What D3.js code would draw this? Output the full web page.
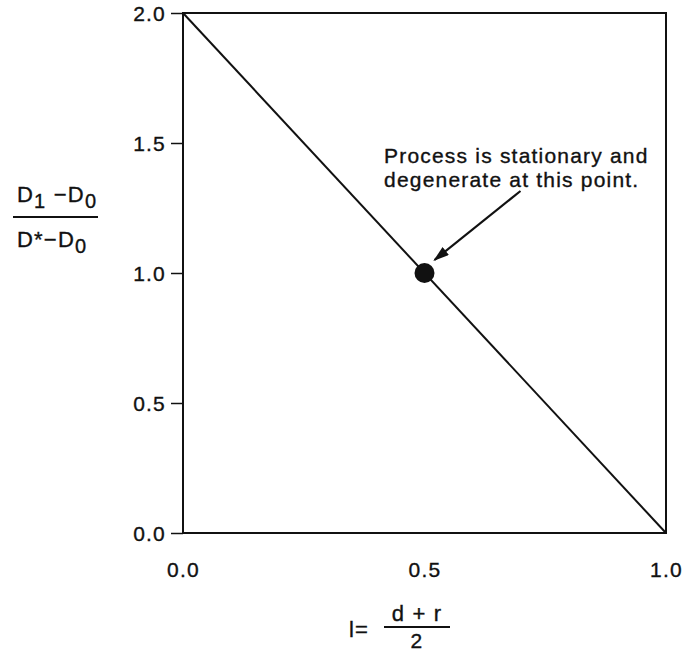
<!DOCTYPE html>
<html>
<head>
<meta charset="utf-8">
<script src="https://cdn.jsdelivr.net/npm/d3@7"></script>
<style>
  html, body { margin: 0; padding: 0; background: #fff; }
  svg text { font-family: 'Liberation Sans', Arial, sans-serif; fill: #111; letter-spacing: 1.2px;
             stroke: #111; stroke-width: 0.35px; }
</style>
</head>
<body>
<svg id="chart" width="690" height="655"></svg>
<script>
// Line from (0, 2) down to (1, 0), with the stationary point marked.
const lineX = [0.0, 1.0];
const lineY = [2.0, 0.0];
const pointX = [0.5];
const pointY = [1.0];
const xTicks = [0.0, 0.5, 1.0];
const yTicks = [0.0, 0.5, 1.0, 1.5, 2.0];
const noteLines = ['Process is stationary and', 'degenerate at this point.'];

const ink = '#111';
const svg = d3.select('#chart');

const plotL = 183, plotR = 666, plotT = 13, plotB = 533;
const x = d3.scaleLinear().domain([0, 1]).range([plotL, plotR]);
const y = d3.scaleLinear().domain([0, 2]).range([plotB, plotT]);

// frame
svg.append('rect')
  .attr('x', plotL).attr('y', plotT)
  .attr('width', plotR - plotL).attr('height', plotB - plotT)
  .attr('fill', 'none').attr('stroke', ink).attr('stroke-width', 2);

// y axis: outward ticks, labels at left
const yAxis = svg.append('g')
  .attr('transform', `translate(${plotL},0)`)
  .call(d3.axisLeft(y).tickValues(yTicks).tickFormat(d3.format('.1f'))
    .tickSize(12).tickPadding(5));
yAxis.select('.domain').remove();
yAxis.selectAll('line').attr('stroke', ink).attr('stroke-width', 1.5);
yAxis.selectAll('text').attr('font-size', 21).attr('fill', ink)
  .attr('font-family', null).attr('dy', '0.36em');

// x axis: labels only
const xAxis = svg.append('g')
  .attr('transform', `translate(0,${plotB})`)
  .call(d3.axisBottom(x).tickValues(xTicks).tickFormat(d3.format('.1f'))
    .tickSize(0).tickPadding(36));
xAxis.select('.domain').remove();
xAxis.selectAll('text').attr('font-size', 21).attr('fill', ink)
  .attr('font-family', null).attr('dy', '0.36em');

// the line
const pts = lineX.map((v, i) => [v, lineY[i]]);
svg.append('path')
  .attr('d', d3.line().x(d => x(d[0])).y(d => y(d[1]))(pts))
  .attr('fill', 'none').attr('stroke', ink).attr('stroke-width', 2);

// the point
svg.selectAll('circle.pt')
  .data(pointX.map((v, i) => [v, pointY[i]]))
  .join('circle')
  .attr('class', 'pt')
  .attr('cx', d => x(d[0])).attr('cy', d => y(d[1]))
  .attr('r', 10).attr('fill', ink);

// annotation + arrow
const px = x(pointX[0]), py = y(pointY[0]);
svg.append('defs').append('marker')
  .attr('id', 'head').attr('viewBox', '0 0 10 10')
  .attr('refX', 9).attr('refY', 5)
  .attr('markerWidth', 16).attr('markerHeight', 10)
  .attr('markerUnits', 'userSpaceOnUse')
  .attr('orient', 'auto')
  .attr('preserveAspectRatio', 'none')
  .append('path').attr('d', 'M0,0 L10,5 L0,10 Z').attr('fill', ink);
svg.append('line')
  .attr('x1', px + 96).attr('y1', py - 82)
  .attr('x2', px + 10).attr('y2', py - 13)
  .attr('stroke', ink).attr('stroke-width', 2.2)
  .attr('marker-end', 'url(#head)');

const note = svg.append('text').attr('font-size', 21);
noteLines.forEach((t, i) => {
  note.append('tspan').attr('x', 384).attr('y', 163 + i * 24).text(t);
});

// y label: (D1 - D0) / (D* - D0)
function frac(g, parts, yBase) {
  const t = g.append('text').attr('x', 17).attr('y', yBase).attr('font-size', 22);
  parts.forEach(p => {
    const s = t.append('tspan').text(p.t);
    if (p.sub) s.attr('font-size', 20).attr('dy', 6);
    if (p.up) s.attr('dy', -6);
  });
}
const yl = svg.append('g');
frac(yl, [{ t: 'D' }, { t: '1', sub: true }, { t: ' \u2212D', up: true }, { t: '0', sub: true }], 202);
yl.append('line').attr('x1', 13).attr('x2', 98).attr('y1', 217).attr('y2', 217)
  .attr('stroke', ink).attr('stroke-width', 2);
frac(yl, [{ t: 'D*\u2212D' }, { t: '0', sub: true }], 247);

// x label: l = (d + r) / 2
const xl = svg.append('g');
xl.append('text').attr('x', 349).attr('y', 637).attr('font-size', 22).text('l=');
xl.append('text').attr('x', 417).attr('y', 621).attr('font-size', 22)
  .attr('text-anchor', 'middle').text('d + r');
xl.append('line').attr('x1', 384).attr('x2', 450).attr('y1', 627).attr('y2', 627)
  .attr('stroke', ink).attr('stroke-width', 2);
xl.append('text').attr('x', 417).attr('y', 648).attr('font-size', 21)
  .attr('text-anchor', 'middle').text('2');
</script>
</body>
</html>
